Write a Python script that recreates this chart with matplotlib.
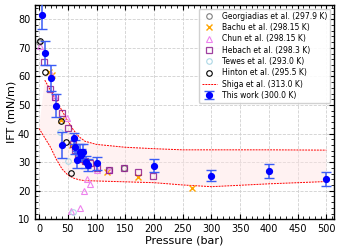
import matplotlib.pyplot as plt
import numpy as np
from matplotlib.ticker import MultipleLocator

# --- data ---
georg_p = [0.5, 148, 122]
georg_ift = [72.0, 27.8, 27.4]

bachu_p = [18, 22, 38, 58, 119, 173, 267]
bachu_ift = [61.7, 60.5, 44.7, 36.0, 26.7, 24.7, 21.1]

chun_p = [1.5, 21, 28, 48, 100, 55.6, 71.3, 78.2, 88.6, 83, 122]
chun_ift = [70.6, 61.0, 52.9, 45.4, 27.3, 12.9, 14.1, 20.0, 22.3, 24.1, 27.4]

hebach_p = [8.7, 19, 27, 39.4, 50, 58.5, 62.6, 68, 72, 80, 88.6, 100, 122, 148, 172.6, 197.6]
hebach_ift = [65.2, 55.5, 52.9, 47.1, 41.8, 36.2, 34.3, 32.0, 31.0, 30.3, 29.6, 28.0, 27.3, 27.8, 26.7, 25.3]

tewes_p = [37, 50, 59.6]
tewes_ift = [40.5, 30.4, 12.4]

hinton_p = [1.0, 10.4, 38.2, 47, 55.6]
hinton_ift = [72.3, 61.7, 44.5, 37.0, 26.1]

shiga_up_p = [10, 20, 30, 40, 50, 60, 70, 80, 100, 150, 200, 250, 300, 400, 500]
shiga_up = [58.7, 55.1, 51.5, 48.0, 44.4, 41.2, 38.8, 37.3, 36.2, 35.2, 34.7, 34.3, 34.3, 34.3, 34.2]
shiga_lo_p = [0, 10, 20, 30, 40, 50, 60, 70, 80, 100, 150, 200, 250, 300, 400, 500]
shiga_lo = [41.8, 38.5, 35.2, 31.0, 27.6, 25.5, 24.4, 23.8, 23.5, 23.4, 23.1, 22.8, 22.0, 21.4, 22.4, 23.2]

work_p = [4.7, 10.4, 20.3, 29.5, 39.4, 60.3, 62.6, 65.5, 71.3, 72.5, 75.9, 81, 85.7, 100, 200, 300, 400, 500]
work_ift = [81.5, 68.3, 59.4, 49.7, 36.0, 38.3, 35.2, 30.8, 33.7, 32.5, 33.7, 30.0, 29.0, 29.6, 28.8, 25.3, 26.9, 24.1]
work_err = [5.0, 4.2, 4.5, 4.0, 4.4, 2.0, 2.5, 3.0, 2.5, 2.0, 2.5, 2.2, 2.0, 2.2, 2.2, 2.0, 2.3, 2.3]

fig = plt.figure(figsize=(3.4, 2.5), dpi=100)
ax = fig.add_axes([0.103, 0.123, 0.879, 0.857])

# Shiga band
poly_x = shiga_up_p + shiga_lo_p[::-1]
poly_y = shiga_up + shiga_lo[::-1]
ax.fill(poly_x, poly_y, color='#ffe4e4', alpha=0.45, lw=0, zorder=1)

ms = 4
ax.plot(georg_p, georg_ift, 'o', mfc='none', mec='gray', ms=ms, mew=0.8,
        label='Georgiadias et al. (297.9 K)', zorder=3)
ax.plot(bachu_p, bachu_ift, 'x', color='orange', ms=ms, mew=1.0,
        label='Bachu et al. (298.15 K)', zorder=3)
ax.plot(chun_p, chun_ift, '^', mfc='none', mec='violet', ms=ms, mew=0.8,
        label='Chun et al. (298.15 K)', zorder=3)
ax.plot(hebach_p, hebach_ift, 's', mfc='none', mec='purple', ms=ms, mew=0.9,
        alpha=0.75, label='Hebach et al. (298.3 K)', zorder=3)
ax.plot(tewes_p, tewes_ift, 'o', mfc='none', mec='lightblue', ms=ms, mew=0.8,
        label='Tewes et al. (293.0 K)', zorder=3)
ax.plot(hinton_p, hinton_ift, 'o', mfc='none', mec='black', ms=ms, mew=0.8,
        label='Hinton et al. (295.5 K)', zorder=3)
ax.plot(shiga_up_p, shiga_up, '--', color='red', lw=0.7, dashes=(2, 1),
        label='Shiga et al. (313.0 K)', zorder=2)
ax.plot(shiga_lo_p, shiga_lo, '--', color='red', lw=0.7, dashes=(2, 1), zorder=2)

ax.errorbar(work_p, work_ift, yerr=work_err, fmt='o', color='blue', ms=4.2,
            ecolor='#3a5cf5', elinewidth=1.1, capsize=3.5, capthick=1.0,
            label='This work (300.0 K)', zorder=4)

ax.set_xlim(-7, 513)
ax.set_ylim(10, 85)
ax.xaxis.set_major_locator(MultipleLocator(50))
ax.xaxis.set_minor_locator(MultipleLocator(10))
ax.yaxis.set_major_locator(MultipleLocator(10))
ax.yaxis.set_minor_locator(MultipleLocator(2))
ax.tick_params(which='both', direction='in', top=True, right=True, labelsize=7)
ax.tick_params(which='major', length=3.5, width=0.8)
ax.tick_params(which='minor', length=2, width=0.6)
ax.grid(True, which='major', ls='--', color='#d0d0d0', lw=0.6)
ax.set_axisbelow(True)
for s in ax.spines.values():
    s.set_linewidth(1.0)

ax.set_xlabel('Pressure (bar)', fontsize=8, labelpad=1)
ax.set_ylabel('IFT (mN/m)', fontsize=8, labelpad=1)

ax.legend(loc='upper right', fontsize=5.5, labelspacing=0.3, handlelength=2.0,
          handletextpad=0.6, borderpad=0.4, framealpha=0.9, edgecolor='#cccccc',
          fancybox=True)

fig.savefig('out.png', dpi=100)
